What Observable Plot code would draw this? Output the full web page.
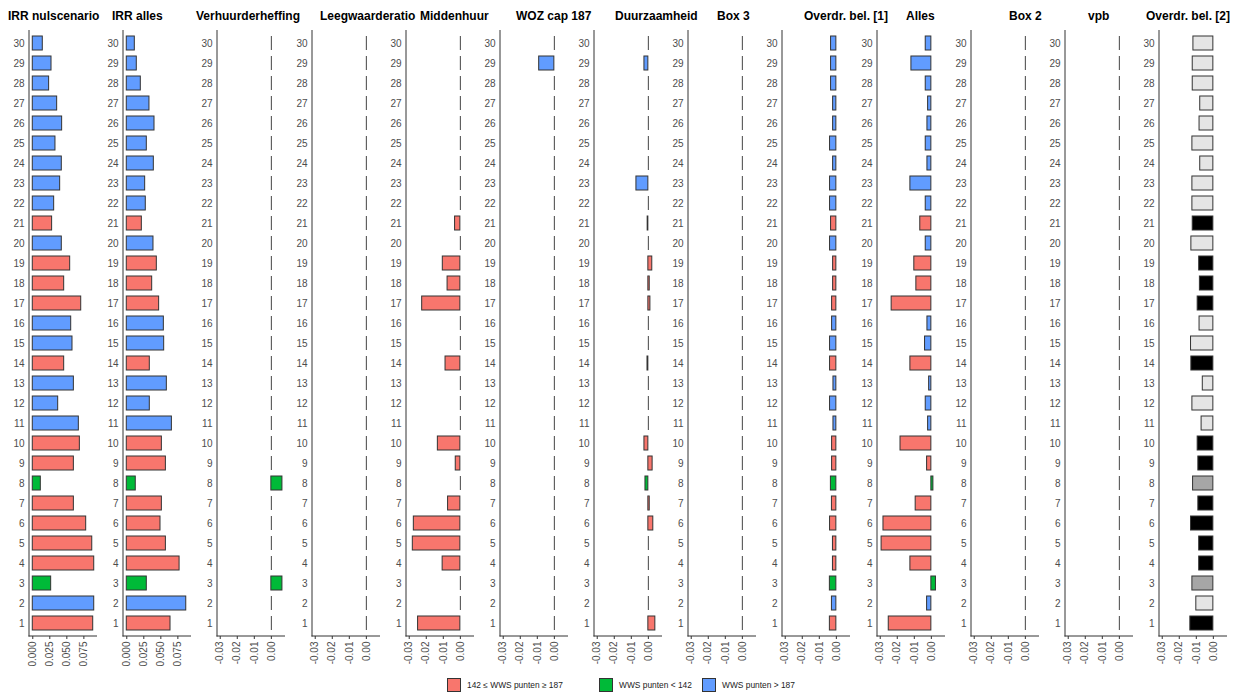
<!DOCTYPE html>
<html><head><meta charset="utf-8">
<script src="https://cdn.jsdelivr.net/npm/d3@7"></script>
<script src="https://cdn.jsdelivr.net/npm/@observablehq/plot@0.6"></script>
<style>
body{margin:0;background:#fff;font-family:"Liberation Sans",Arial,sans-serif;}
#chart{position:relative;width:1237px;height:697px;overflow:hidden;background:#fff;}
.panel{position:absolute;top:0;}
.title{position:absolute;top:9px;font-weight:bold;font-size:12px;line-height:14px;color:#000;white-space:nowrap;}
.lg{position:absolute;top:678px;display:flex;align-items:center;font-size:8.4px;color:#222;white-space:nowrap;}
.key{display:inline-block;width:12px;height:12px;border:1px solid #333;margin-right:6px;}
</style></head>
<body><div id="chart"></div>
<script>
// ---- data ----
const rows = [1,2,3,4,5,6,7,8,9,10,11,12,13,14,15,16,17,18,19,20,21,22,23,24,25,26,27,28,29,30];
const groups = ["mid","high","low","mid","mid","mid","mid","low","mid","mid",
                "high","high","high","mid","high","high","mid","mid","mid","high",
                "mid","high","high","high","high","high","high","high","high","high"];
const groupDomain = ["mid","low","high"];
const legendLabels = ["142 \u2264 WWS punten \u2265 187","WWS punten < 142","WWS punten > 187"];

const irrNulscenario = [0.0887,0.0902,0.0270,0.0902,0.0873,0.0784,0.0603,0.0118,0.0603,0.0691,
                        0.0676,0.0373,0.0603,0.0461,0.0583,0.0564,0.0711,0.0461,0.0549,0.0426,
                        0.0284,0.0314,0.0402,0.0426,0.0333,0.0431,0.0358,0.0240,0.0275,0.0147];
const irrAlles = [0.0642,0.0873,0.0294,0.0775,0.0574,0.0495,0.0515,0.0132,0.0574,0.0515,
                  0.0662,0.0338,0.0588,0.0338,0.0549,0.0544,0.0475,0.0373,0.0441,0.0392,
                  0.0221,0.0279,0.0270,0.0397,0.0294,0.0407,0.0333,0.0206,0.0147,0.0118];
const verhuurderheffing = [0,0,0.0065,0,0,0,0,0.0065,0,0, 0,0,0,0,0,0,0,0,0,0, 0,0,0,0,0,0,0,0,0,0];
const leegwaarderatio = [0,0,0,0,0,0,0,0,0,0, 0,0,0,0,0,0,0,0,0,0, 0,0,0,0,0,0,0,0,0,0];
const middenhuur = [-0.0248,0,0,-0.0104,-0.0279,-0.0273,-0.0072,0,-0.0027,-0.0132,
                    0,0,0,-0.0087,0,0,-0.0224,-0.0075,-0.0103,0,
                    -0.0031,0,0,0,0,0,0,0,0,0];
const wozCap187 = [0,0,0,0,0,0,0,0,0,0, 0,0,0,0,0,0,0,0,0,0, 0,0,0,0,0,0,0,0,-0.0089,0];
const duurzaamheid = [0.0041,0,0,0,0,0.0029,0.0008,-0.0017,0.0025,-0.0023,
                      0,0,0,-0.0005,0,0,0.0012,0.0008,0.0023,0,
                      -0.0004,0,-0.0070,0,0,0,0,0,-0.0023,0];
const box3 = [0,0,0,0,0,0,0,0,0,0, 0,0,0,0,0,0,0,0,0,0, 0,0,0,0,0,0,0,0,0,0];
const overdrBel1 = [-0.0038,-0.0026,-0.0038,-0.0020,-0.0020,-0.0037,-0.0026,-0.0032,-0.0025,-0.0025,
                    -0.0017,-0.0037,-0.0017,-0.0037,-0.0037,-0.0025,-0.0025,-0.0019,-0.0019,-0.0037,
                    -0.0031,-0.0037,-0.0037,-0.0019,-0.0037,-0.0019,-0.0019,-0.0031,-0.0031,-0.0031];
const alles = [-0.0250,-0.0025,0.0027,-0.0123,-0.0292,-0.0281,-0.0092,0.0012,-0.0025,-0.0181,
               -0.0019,-0.0033,-0.0013,-0.0123,-0.0037,-0.0023,-0.0233,-0.0088,-0.0100,-0.0033,
               -0.0065,-0.0033,-0.0123,-0.0023,-0.0033,-0.0023,-0.0019,-0.0033,-0.0117,-0.0033];
const box2 = [0,0,0,0,0,0,0,0,0,0, 0,0,0,0,0,0,0,0,0,0, 0,0,0,0,0,0,0,0,0,0];
const vpb = [0,0,0,0,0,0,0,0,0,0, 0,0,0,0,0,0,0,0,0,0, 0,0,0,0,0,0,0,0,0,0];
const overdrBel2 = [-0.0135,-0.0100,-0.0123,-0.0083,-0.0083,-0.0131,-0.0088,-0.0119,-0.0088,-0.0092,
                    -0.0069,-0.0123,-0.0062,-0.0129,-0.0131,-0.0081,-0.0092,-0.0079,-0.0083,-0.0129,
                    -0.0121,-0.0123,-0.0123,-0.0077,-0.0123,-0.0081,-0.0077,-0.0121,-0.0121,-0.0117];

const irrTicks = [0, 0.025, 0.05, 0.075];
const deltaTicks = [-0.03, -0.02, -0.01, 0];

const panels = [
  {title:"IRR nulscenario", values:irrNulscenario, kind:"irr"},
  {title:"IRR alles", values:irrAlles, kind:"irr"},
  {title:"Verhuurderheffing", values:verhuurderheffing, kind:"delta"},
  {title:"Leegwaarderatio", values:leegwaarderatio, kind:"delta"},
  {title:"Middenhuur", values:middenhuur, kind:"delta"},
  {title:"WOZ cap 187", values:wozCap187, kind:"delta"},
  {title:"Duurzaamheid", values:duurzaamheid, kind:"delta"},
  {title:"Box 3", values:box3, kind:"delta"},
  {title:"Overdr. bel. [1]", values:overdrBel1, kind:"delta"},
  {title:"Alles", values:alles, kind:"delta"},
  {title:"Box 2", values:box2, kind:"delta"},
  {title:"vpb", values:vpb, kind:"delta"},
  {title:"Overdr. bel. [2]", values:overdrBel2, kind:"delta", grey:true}
];

// ---- layout / style ----
const hueRange = ["#F8766D","#00BA38","#619CFF"];
const greyRange = ["#000000","#A6A6A6","#E5E5E5"];
const panelStep = 94.17, panelLeft0 = 9;
const titleLeft = [8,112,196,320,420,516,615,717,804,906,1009,1088,1146];
const legendLeft = [447,599,702];
const scaleSpec = {
  irr: {domain:[-0.0048,0.095], ticks:irrTicks, fmt:d=>d.toFixed(3)},
  delta: {domain:[-0.0316,0.0083], ticks:deltaTicks, fmt:d=>(Math.abs(d)<1e-12?0:d).toFixed(2)}
};

const chart = document.getElementById("chart");
const font = '"Liberation Sans", Arial, sans-serif';

panels.forEach((p, i) => {
  const data = rows.map((r, k) => ({row:r, v:p.values[k], g:groups[k]}));
  const s = scaleSpec[p.kind];
  const svg = Plot.plot({
    width:94, height:672, marginLeft:20, marginRight:6, marginTop:30, marginBottom:36,
    style:{fontFamily:font, fontSize:"10px", background:"transparent", overflow:"visible"},
    x:{domain:s.domain},
    y:{type:"band", domain:rows.slice().reverse(), paddingInner:0.3, paddingOuter:0.25},
    color:{type:"ordinal", domain:groupDomain, range:p.grey ? greyRange : hueRange},
    marks:[
      Plot.barX(data.filter(d => d.v !== 0), {x:"v", y:"row", fill:"g", stroke:"#333", strokeWidth:1}),
      Plot.tickX(data.filter(d => d.v === 0), {x:"v", y:"row", stroke:"#444", strokeWidth:1}),
      Plot.axisY({tickSize:0, tickPadding:5, fill:"#4d4d4d", fontSize:10, label:null}),
      Plot.axisX(s.ticks, {tickSize:3, tickPadding:2, tickRotate:-90, tickFormat:s.fmt,
                           fill:"#4d4d4d", stroke:"#333", fontSize:10, label:null})
    ]
  });
  const xs = svg.scale("x").range, ys = svg.scale("y").range;
  const g = d3.select(svg).append("g").attr("stroke","#333").attr("stroke-width",1);
  const xl = Math.min(...xs), xr = Math.max(...xs), yt = Math.min(...ys), yb = Math.max(...ys);
  g.append("line").attr("x1",xl).attr("x2",xl).attr("y1",yt).attr("y2",yb+0.5);
  g.append("line").attr("x1",xl-0.5).attr("x2",xr).attr("y1",yb).attr("y2",yb);
  svg.classList.add("panel");
  svg.style.left = (panelLeft0 + i*panelStep) + "px";
  chart.appendChild(svg);

  const t = document.createElement("div");
  t.className = "title";
  t.textContent = p.title;
  t.style.left = titleLeft[i] + "px";
  chart.appendChild(t);
});

legendLabels.forEach((lab, i) => {
  const d = document.createElement("div");
  d.className = "lg";
  d.style.left = legendLeft[i] + "px";
  const k = document.createElement("span");
  k.className = "key";
  k.style.background = hueRange[i];
  d.appendChild(k);
  d.appendChild(document.createTextNode(lab));
  chart.appendChild(d);
});
</script>
</body></html>
